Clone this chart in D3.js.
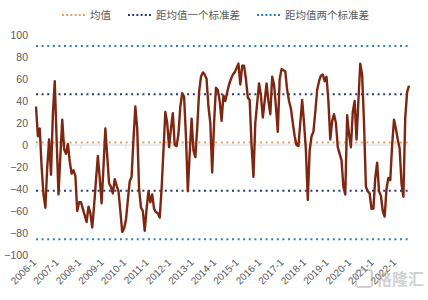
<!DOCTYPE html>
<html>
<head>
<meta charset="utf-8">
<script src="https://cdn.jsdelivr.net/npm/d3@7/dist/d3.min.js"></script>
<style>
  html, body { margin: 0; padding: 0; background: #fff; }
  svg { display: block; }
  text { font-family: "Liberation Sans", Arial, "Noto Sans CJK SC", sans-serif; fill: #595959; }
  .cjk { font-family: "Noto Sans CJK SC", "Liberation Sans", sans-serif; }
</style>
</head>
<body>
<div id="chart"></div>
<script>
// monthly series, 2006-1 .. 2022-8
const START_YEAR = 2006, N_MONTHS = 200;
const values = [
  35, 8, 15, -20, -45, -57, -20, 5, -27, 28, 58, 5,
  -45, -10, 23, -4, -8, 1, -15, -26, -23, -28, -60, -52,
  -52, -58, -64, -70, -56, -62, -75, -55, -32, -10, -30, -53,
  -20, 15, -10, -35, -38, -44, -31, -37, -42, -60, -79, -76,
  -68, -50, -33, -29, 5, 35, 15, -40, -57, -60, -78, -58,
  -42, -52, -45, -58, -61, -62, -66, -40, -5, 30, 20, -2,
  15, 29, 0, -1, 10, 35, 47, 44, 8, -42, -8, 24,
  -5, -11, 15, 48, 62, 66, 64, 60, 35, 20, -25, 20,
  52, 50, 40, 22, 45, 40, 48, 55, 60, 64, 66, 70,
  74, 55, 72, 72, 60, 43, 41, 0, -29, 20, 38, 56,
  45, 25, 40, 56, 40, 28, 62, 55, 35, 12, 60, 69,
  68, 67, 50, 40, 33, 20, 8, 0, -1, 20, 41, 20,
  -5, -50, -5, 8, 12, 30, 50, 58, 63, 64, 58, 62,
  40, 5, 22, 28, 20, -2, -8, -14, -38, -45, 27, 10,
  -2, 30, 40, 5, 40, 74, 64, 20, -38, -42, -44, -58,
  -58, -30, -16, -42, -46, -60, -65, -40, -30, -32, 0, 23,
  15, 5, -3, -35, -47, 25, 48, 54
];
const meanValue = 2.2;
const sdValue = 43.9;
const yTicks = [100, 80, 60, 40, 20, 0, -20, -40, -60, -80, -100];
const xTickLabels = ["2006-1","2007-1","2008-1","2009-1","2010-1","2011-1","2012-1","2013-1","2014-1",
  "2015-1","2016-1","2017-1","2018-1","2019-1","2020-1","2021-1","2022-1"];
const legendNames = ["均值", "距均值一个标准差", "距均值两个标准差"];

const months = d3.range(N_MONTHS).map(i => `${START_YEAR + Math.floor(i / 12)}-${(i % 12) + 1}`);
const data = months.map((m, i) => ({ m, v: values[i] }));

const W = 428, H = 300;
const LINE_COLOR = "#7d2712";
const MEAN_COLOR = "#dfa06a";
const SD1_COLOR = "#283a6e";
const SD2_COLOR = "#2f7fbf";

const svg = d3.select("#chart").append("svg").attr("width", W).attr("height", H);

const x = d3.scalePoint().domain(months).range([36, 409]);
const y = d3.scaleLinear().domain([-100, 100]).range([255, 35]);

// y labels (no axis line)
const yAxis = svg.append("g").attr("transform", "translate(28,0)")
  .call(d3.axisLeft(y).tickValues(yTicks).tickSize(0).tickPadding(0));
yAxis.select(".domain").remove();
yAxis.selectAll("text").attr("font-size", 10.5).attr("fill", "#595959")
  .style("font-family", "'Liberation Sans', Arial, sans-serif");

// category axis crossing at 0
const xAxisG = svg.append("g").attr("transform", `translate(0,${y(0)})`);
xAxisG.append("line").attr("x1", 36).attr("x2", 409).attr("stroke", "#d9d9d9").attr("stroke-width", 1);
xAxisG.selectAll("line.tk").data(months.filter((_, i) => i % 24 === 0)).join("line")
  .attr("class", "tk").attr("x1", d => x(d)).attr("x2", d => x(d))
  .attr("y1", 0).attr("y2", 4).attr("stroke", "#d9d9d9");

// x labels at bottom, rotated
svg.append("g").selectAll("text").data(xTickLabels).join("text")
  .attr("transform", d => `translate(${x(d) + 1},${263}) rotate(-45)`)
  .attr("text-anchor", "end")
  .attr("font-size", 10)
  .text(d => d);

// reference lines
const refs = [
  { v: meanValue + 2 * sdValue, c: SD2_COLOR },
  { v: meanValue - 2 * sdValue, c: SD2_COLOR },
  { v: meanValue + sdValue, c: SD1_COLOR },
  { v: meanValue - sdValue, c: SD1_COLOR },
  { v: meanValue, c: MEAN_COLOR }
];
svg.append("g").selectAll("line").data(refs).join("line")
  .attr("x1", 36).attr("x2", 409)
  .attr("y1", d => y(d.v)).attr("y2", d => y(d.v))
  .attr("stroke", d => d.c).attr("stroke-width", 2)
  .attr("stroke-dasharray", "2 3.6");

// main series
svg.append("path").datum(data)
  .attr("fill", "none")
  .attr("stroke", LINE_COLOR)
  .attr("stroke-width", 2.4)
  .attr("stroke-linejoin", "round")
  .attr("d", d3.line().x(d => x(d.m)).y(d => y(d.v)));

// legend
const legendItems = [
  { name: legendNames[0], c: MEAN_COLOR, x: 62 },
  { name: legendNames[1], c: SD1_COLOR, x: 128 },
  { name: legendNames[2], c: SD2_COLOR, x: 257 }
];
const lg = svg.append("g").selectAll("g").data(legendItems).join("g")
  .attr("transform", d => `translate(${d.x},15)`);
lg.append("line").attr("x1", 0).attr("x2", 23)
  .attr("stroke", d => d.c).attr("stroke-width", 2).attr("stroke-dasharray", "2 2.2");
lg.append("text").attr("class", "cjk").attr("x", 28).attr("dy", "0.36em")
  .attr("font-size", 10.5).text(d => d.name);

// watermark
const wm = svg.append("g").attr("transform", "translate(356,270)").attr("opacity", 0.45);
wm.append("rect").attr("x", 0).attr("y", 0).attr("width", 16).attr("height", 17).attr("rx", 3)
  .attr("fill", "none").attr("stroke", "#9a9a9a").attr("stroke-width", 2);
wm.append("text").attr("class", "cjk").attr("x", 20).attr("y", 15)
  .attr("font-size", 16).attr("font-weight", "bold").style("fill", "#9a9a9a").text("格隆汇");
</script>
</body>
</html>
